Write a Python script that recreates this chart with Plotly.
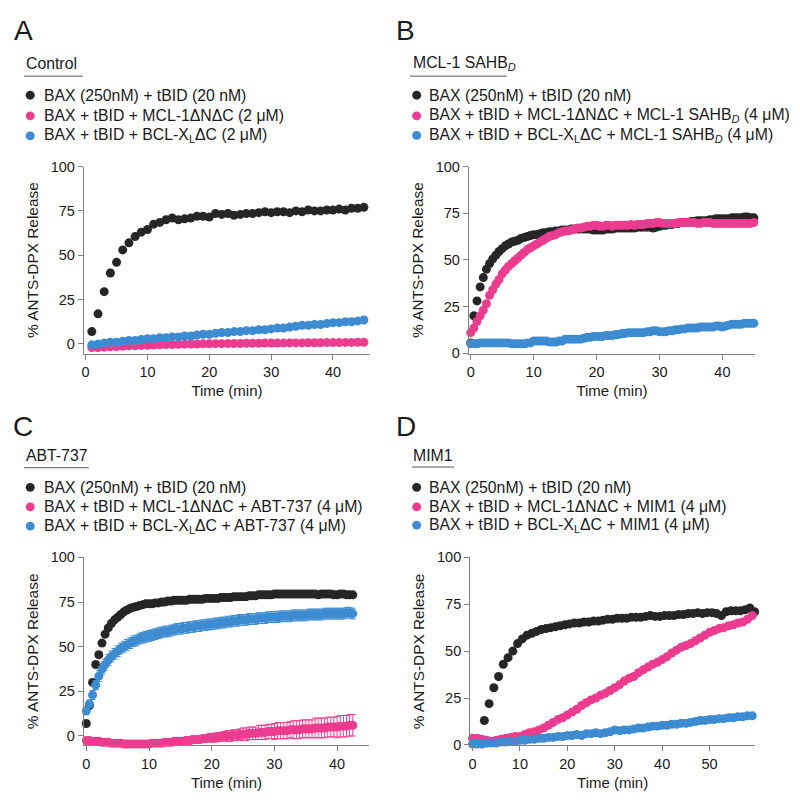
import plotly.graph_objects as go

W, H = 800, 811

# ---------------- DATA ----------------
BLACK = "#262626"
PINK = "#EC3C8F"
BLUE = "#3D8BD1"

# Panel A (Control)
tA = [1, 2, 3, 4, 5, 6, 7, 8, 9, 10, 11, 12, 13, 14, 15, 16, 17, 18, 19, 20,
      21, 22, 23, 24, 25, 26, 27, 28, 29, 30, 31, 32, 33, 34, 35, 36, 37, 38, 39, 40,
      41, 42, 43, 44, 45]
A_black = [7, 17, 29.5, 40, 46, 53, 57, 60.5, 63, 64.5,
           67.5, 68.5, 70, 71, 70, 70.5, 71, 72, 72, 71.5,
           73.5, 73, 73.5, 72.5, 73, 73.5, 73.5, 74, 74.5, 74,
           74.5, 74.5, 74, 75, 74.5, 75.5, 75, 75, 75.5, 75.5,
           76, 75.5, 76.5, 76.5, 77]
A_pink = [-2, -2, -1.8, -1.6, -1.5, -1.3, -1.1, -1, -0.8, -0.7,
          -0.6, -0.5, -0.4, -0.3, -0.2, -0.1, 0, 0, 0.1, 0.1,
          0.2, 0.2, 0.3, 0.3, 0.3, 0.4, 0.4, 0.4, 0.5, 0.5,
          0.5, 0.5, 0.6, 0.6, 0.6, 0.7, 0.7, 0.7, 0.8, 0.8,
          0.8, 0.9, 0.9, 1, 1]
A_blue = [-0.5, 0, 0.5, 1, 1, 1.5, 2, 2, 2.5, 3,
          3, 3.5, 3.5, 4, 4, 4.5, 4.5, 5, 5.5, 5.5,
          6, 6.5, 6.5, 7, 7, 7.5, 7.5, 8, 8, 8.5,
          9, 9, 9.5, 10, 10.5, 10.5, 11, 11, 11.5, 12,
          12, 12.5, 12.5, 13, 13.5]

# Panel B (MCL-1 SAHB_D)
tB = [0, 0.5, 1, 1.5, 2, 2.5, 3, 3.5, 4, 4.5,
      5, 5.5, 6, 6.5, 7, 7.5, 8, 8.5, 9, 9.5,
      10, 10.5, 11, 11.5, 12, 12.5, 13, 13.5, 14, 14.5,
      15, 15.5, 16, 16.5, 17, 17.5, 18, 18.5, 19, 19.5,
      20, 20.5, 21, 21.5, 22, 22.5, 23, 23.5, 24, 24.5,
      25, 25.5, 26, 26.5, 27, 27.5, 28, 28.5, 29, 29.5,
      30, 30.5, 31, 31.5, 32, 32.5, 33, 33.5, 34, 34.5,
      35, 35.5, 36, 36.5, 37, 37.5, 38, 38.5, 39, 39.5,
      40, 40.5, 41, 41.5, 42, 42.5, 43, 43.5, 44, 44.5,
      45]
B_black = [5.5, 20, 28, 35.5, 40.5, 45, 48, 50.5, 52.5, 54.5,
           56, 57.5, 58.5, 59.5, 60, 60.5, 61.5, 62, 62.5, 63,
           63.5, 63.5, 64, 64.5, 64.5, 65, 65, 65.5, 65.5, 66,
           66, 66, 66.5, 66.5, 66.5, 66.5, 66.5, 66.5, 66.5, 66,
           66, 66, 66, 66.5, 66.5, 66.5, 67, 67, 67, 67,
           67, 67, 67, 67.5, 67.5, 67.5, 67.5, 67.5, 67, 67.5,
           68, 68.5, 68.5, 69, 69, 69.5, 69.5, 70, 70, 70,
           70.5, 70.5, 71, 71, 71, 71, 71.5, 71.5, 72, 72,
           72, 72, 72, 72.5, 72.5, 72.5, 72.5, 73, 73, 72.5,
           72.5]
B_black_err = 1.5
B_pink = [11, 13.5, 17, 20, 23, 26.5, 31, 34, 37, 39.5,
          42.5, 44.5, 46.5, 48, 49.5, 51, 52.5, 54, 55.5, 56.5,
          57.5, 58.5, 59.5, 60.5, 61.5, 62.5, 63, 63.5, 64.5, 65,
          65.5, 65.5, 66, 66.5, 67, 67, 67.5, 68, 68, 68.5,
          68.5, 68, 68, 68.5, 68.5, 68, 68.5, 68.5, 68.5, 68.5,
          68.5, 69, 68.5, 69, 69, 69, 69.5, 69.5, 69.5, 70,
          70, 69.5, 69.5, 69.5, 69.5, 69.5, 70, 70, 70, 70,
          70, 70, 69.5, 69.5, 70, 70, 70, 69.5, 69.5, 69.5,
          69.5, 69.5, 69.5, 69.5, 69.5, 69.5, 69.5, 69.5, 69.5, 69.5,
          70]
B_pink_err = 1.2
B_blue = [5, 5, 5, 5.5, 5.5, 5.5, 5.5, 5.5, 5.5, 5.5,
          5.5, 5.5, 5.5, 5, 5, 5, 5, 5, 5.5, 5.5,
          6.5, 6.5, 6.5, 6.5, 6.5, 6, 6, 6, 6.5, 6.5,
          7.5, 7.5, 7.5, 7.5, 7.5, 7.5, 8, 8.5, 8.5, 9,
          9, 9, 9, 9.5, 9.5, 9.5, 10, 10, 10.5, 10.5,
          11, 11, 11, 11, 11, 11, 11.5, 11.5, 12, 12,
          11.5, 11.5, 11.5, 12, 12, 12.5, 12.5, 13, 13, 13.5,
          13.5, 13.5, 13.5, 14, 14, 14, 14, 14, 14.5, 14.5,
          14, 14.5, 15, 15.5, 15.5, 15.5, 15.5, 16, 16, 16,
          16]

# Panel C (ABT-737)
tC = [0, 0.5, 1, 1.5, 2, 2.5, 3, 3.5, 4, 4.5,
      5, 5.5, 6, 6.5, 7, 7.5, 8, 8.5, 9, 9.5,
      10, 10.5, 11, 11.5, 12, 12.5, 13, 13.5, 14, 14.5,
      15, 15.5, 16, 16.5, 17, 17.5, 18, 18.5, 19, 19.5,
      20, 20.5, 21, 21.5, 22, 22.5, 23, 23.5, 24, 24.5,
      25, 25.5, 26, 26.5, 27, 27.5, 28, 28.5, 29, 29.5,
      30, 30.5, 31, 31.5, 32, 32.5, 33, 33.5, 34, 34.5,
      35, 35.5, 36, 36.5, 37, 37.5, 38, 38.5, 39, 39.5,
      40, 40.5, 41, 41.5, 42, 42.5]
C_black = [7, 17, 30, 40, 45.5, 52, 57, 60.5, 63, 65,
           66.5, 68, 69.5, 70.5, 71.5, 72, 72.5, 73, 73.5, 74,
           74, 74, 74.5, 74.5, 75, 75, 75.5, 75.5, 76, 76,
           76, 76, 76, 76.5, 76.5, 76.5, 76.5, 76.5, 77, 77,
           77, 77, 77, 77.5, 77.5, 77.5, 77.5, 78, 78, 78,
           78, 78, 78.5, 78.5, 78.5, 79, 79, 79, 79, 79,
           79.5, 79.5, 79.5, 79.5, 79.5, 79.5, 79.5, 79.5, 79.5, 79.5,
           79.5, 79.5, 79.5, 79.5, 79, 79.5, 79.5, 79.5, 79.5, 79,
           79, 79.5, 79.5, 79, 79, 79]
C_pink = [-2.5, -2.5, -3, -3, -3, -3.5, -3.5, -3.5, -4, -4,
          -4, -4, -4.5, -4.5, -4.5, -4.5, -4.5, -4.5, -4.5, -4.5,
          -4.5, -4, -4, -4, -4, -3.5, -3.5, -3.5, -3, -3,
          -3, -3, -2.5, -2.5, -2, -2, -2, -1.5, -1.5, -1,
          -1, -1, -0.5, -0.5, 0, 0, 0, 0.5, 0.5, 1,
          1, 1, 1.5, 1.5, 1.5, 2, 2, 2, 2.5, 2.5,
          2.5, 3, 3, 3, 3, 3.5, 3.5, 3.5, 3.5, 4,
          4, 4, 4, 4.5, 4.5, 4.5, 4.5, 5, 5, 5,
          5, 5.5, 5.5, 5.5, 6, 6]
C_pink_err = [0.5, 0.5, 0.5, 0.5, 0.5, 0.5, 0.5, 0.5, 0.5, 0.5,
              1, 1, 1, 1, 1, 1, 1, 1, 1, 1,
              1.5, 1.5, 1.5, 1.5, 1.5, 1.5, 1.5, 1.5, 1.5, 1.5,
              2, 2, 2, 2, 2, 2, 2, 2, 2, 2,
              2.5, 2.5, 2.5, 2.5, 2.5, 3, 3, 3, 3, 3,
              3.5, 3.5, 3.5, 3.5, 3.5, 4, 4, 4, 4, 4,
              4.5, 4.5, 4.5, 4.5, 4.5, 4.5, 5, 5, 5, 5,
              5, 5, 5, 5.5, 5.5, 5.5, 5.5, 5.5, 5.5, 5.5,
              6, 6, 6, 6, 6, 6]
C_blue = [14, 18, 23, 28.5, 33.5, 37.5, 40, 42.5, 44.5, 46,
          47.5, 49, 50, 51, 52, 53, 53.5, 54.5, 55, 55.5,
          56, 56.5, 57, 57.5, 58, 58.5, 58.5, 59, 59.5, 60,
          60, 60.5, 60.5, 61, 61, 61.5, 61.5, 62, 62, 62.5,
          62.5, 63, 63, 63.5, 63.5, 64, 64, 64.5, 64.5, 65,
          65, 65, 65.5, 65.5, 65.5, 66, 66, 66, 66.5, 66.5,
          66.5, 66.5, 67, 67, 67, 67, 67.5, 67.5, 67.5, 67.5,
          67.5, 68, 68, 68, 68, 68, 68.5, 68.5, 68.5, 68.5,
          68.5, 68.5, 68.5, 69, 69, 68.5]
C_blue_err = [2, 2, 2.5, 2.5, 3, 3, 3, 3, 3, 3,
              3, 3, 3, 3, 3, 3, 3, 3, 3, 3,
              3, 3, 3, 3, 3, 3, 3, 3, 3, 3,
              3, 3, 3, 3, 3, 3, 3, 3, 3, 3,
              3, 3, 3, 3, 3, 3, 3, 3, 3, 3,
              3, 3, 3, 3, 3, 3, 3, 3, 3, 3,
              3, 3, 3, 3, 3, 3, 3, 3, 3, 3,
              3, 3, 3, 3, 3, 3, 3, 3, 3, 3,
              3, 3, 3, 3, 3, 3]

# Panel D (MIM1)
tD_black = [2.5, 3.5, 4.5, 5.5, 6.5, 7.5, 8.5, 9.5, 10.5, 11.5,
            12.5, 13.5, 14.5, 15.5, 16.5, 17.5, 18.5, 19.5, 20.5, 21.5,
            22.5, 23.5, 24.5, 25.5, 26.5, 27.5, 28.5, 29.5, 30.5, 31.5,
            32.5, 33.5, 34.5, 35.5, 36.5, 37.5, 38.5, 39.5, 40.5, 41.5,
            42.5, 43.5, 44.5, 45.5, 46.5, 47.5, 48.5, 49.5, 50.5, 51.5,
            52.5, 53.5, 54.5, 55.5, 56.5, 57.5, 58.5, 59.5]
D_black = [13, 22, 30.5, 36.5, 43, 46.5, 50, 54, 56.5, 58.5,
           59.5, 60.5, 61.5, 62, 62.5, 63, 63.5, 64, 64.5, 65,
           65, 65.5, 65.5, 66, 66, 66.5, 67, 67, 67.5, 67.5,
           67.5, 68, 68, 68, 68.5, 69, 68.5, 68.5, 69, 69,
           69, 69.5, 69.5, 70, 70, 70.5, 70, 70.5, 70.5, 70,
           69, 71, 71.5, 71.5, 71.5, 72, 73, 71]
tD = [0, 1, 2, 3, 4, 5, 6, 7, 8, 9,
      10, 11, 12, 13, 14, 15, 16, 17, 18, 19,
      20, 21, 22, 23, 24, 25, 26, 27, 28, 29,
      30, 31, 32, 33, 34, 35, 36, 37, 38, 39,
      40, 41, 42, 43, 44, 45, 46, 47, 48, 49,
      50, 51, 52, 53, 54, 55, 56, 57, 58, 59]
D_pink = [3.5, 3.5, 3, 2.5, 2, 2.5, 3, 3.5, 4, 4.5,
          4.5, 5.5, 6.5, 7, 8, 9, 10.5, 12, 13.5, 14.5,
          16, 17.5, 19, 21, 22.5, 24, 25, 26.5, 27.5, 29,
          30.5, 32, 34, 35.5, 36.5, 38.5, 40, 41.5, 43, 44,
          45.5, 47, 49, 50.5, 52, 53, 54, 55.5, 57, 58.5,
          60, 61, 62, 62.5, 63.5, 64, 65, 65.5, 67, 69]
D_blue = [0.5, 0.5, 0.5, 1, 1, 1, 1.5, 1.5, 2, 2,
          2.5, 2.5, 3, 3, 3.5, 3.5, 4, 4, 4.5, 4.5,
          5, 5, 5.5, 5, 6, 6, 6.5, 6, 6.5, 7,
          8, 7.5, 8, 8, 8.5, 9, 9, 9.5, 10, 10,
          10.5, 10.5, 11, 11, 11.5, 11.5, 12, 12.5, 13, 13,
          13.5, 13.5, 14, 14, 14.5, 14.5, 15, 15, 15.5, 15.5]

x_ticks_45 = [0, 10, 20, 30, 40]
x_ticks_60 = [0, 10, 20, 30, 40, 50]
y_ticks = [0, 25, 50, 75, 100]

# ---------------- FIGURE ----------------
FONT = "Liberation Sans, Arial, Helvetica, sans-serif"
TXT = "#1a1a1a"
AXC = "#808080"
LEG_SIZE = 15.8


def px(x):
    return x / W


def py(y):
    return 1 - y / H


fig = go.Figure()


def add(t, v, color, ax, err=None, errc=None):
    ey = dict(visible=False)
    if isinstance(err, list):
        ey = dict(type="data", array=err, visible=True, color=errc or color,
                  thickness=1, width=3)
    elif err is not None:
        ey = dict(type="constant", value=err, visible=True, color=errc or color,
                  thickness=1, width=3)
    fig.add_trace(go.Scatter(
        x=t, y=v, mode="markers", xaxis="x" + ax, yaxis="y" + ax,
        marker=dict(size=9, color=color, line=dict(width=0)),
        error_y=ey, cliponaxis=False, showlegend=False,
        hoverinfo="x+y"))


# A
add(tA, A_black, BLACK, "")
add(tA, A_pink, PINK, "")
add(tA, A_blue, BLUE, "")
# B
add(tB, B_black, BLACK, "2", B_black_err, "#555555")
add(tB, B_pink, PINK, "2", B_pink_err)
add(tB, B_blue, BLUE, "2")
# C
add(tC, C_black, BLACK, "3")
add(tC, C_pink, PINK, "3", C_pink_err)
add(tC, C_blue, BLUE, "3", C_blue_err)
# D
add(tD_black, D_black, BLACK, "4")
add(tD, D_pink, PINK, "4")
add(tD, D_blue, BLUE, "4")


def xax(domain, rng, ticks, anchor):
    return dict(domain=domain, range=rng, tickvals=ticks, anchor=anchor,
                showline=True, linecolor=AXC, linewidth=1, ticks="outside",
                ticklen=5, tickwidth=1, tickcolor=AXC, showgrid=False,
                zeroline=False, tickfont=dict(size=14.5, color=TXT, family=FONT),
                title=dict(text="Time (min)", font=dict(size=15, color=TXT, family=FONT),
                           standoff=6))


def yax(domain, rng, anchor):
    return dict(domain=domain, range=rng, tickvals=y_ticks, anchor=anchor,
                showline=True, linecolor=AXC, linewidth=1, ticks="outside",
                ticklen=5, tickwidth=1, tickcolor=AXC, showgrid=False,
                zeroline=False, tickfont=dict(size=14.5, color=TXT, family=FONT),
                title=dict(text="% ANTS-DPX Release",
                           font=dict(size=15.4, color=TXT, family=FONT), standoff=8))


top_dom = [py(352.7), py(161.7)]
bot_dom = [py(752.3), py(560.4)]

fig.update_layout(
    width=W, height=H,
    margin=dict(l=0, r=0, t=0, b=0),
    paper_bgcolor="white", plot_bgcolor="white",
    font=dict(family=FONT, color=TXT),
    xaxis=xax([px(82), px(369)], [-0.3, 46], x_ticks_45, "y"),
    yaxis=yax(top_dom, [-5.5, 100], "x"),
    xaxis2=xax([px(468), px(755)], [-0.3, 45.2], x_ticks_45, "y2"),
    yaxis2=yax(top_dom, [-0.3, 100], "x2"),
    xaxis3=xax([px(82), px(368)], [-0.4, 45.1], x_ticks_45, "y3"),
    yaxis3=yax(bot_dom, [-5.3, 100], "x3"),
    xaxis4=xax([px(469.3), px(755)], [-0.5, 59.6], x_ticks_60, "y4"),
    yaxis4=yax(bot_dom, [-0.3, 100], "x4"),
)

annotations = []
shapes = []


def text(x, y, s, size=LEG_SIZE):
    annotations.append(dict(x=px(x), y=py(y), xref="paper", yref="paper",
                            text=s, showarrow=False, xanchor="left", yanchor="middle",
                            font=dict(size=size, color=TXT, family=FONT)))


def dot(x, y, color, d=9):
    r = d / 2
    shapes.append(dict(type="circle", xref="paper", yref="paper",
                       x0=px(x - r), x1=px(x + r), y0=py(y + r), y1=py(y - r),
                       fillcolor=color, line=dict(width=0)))


def uline(x0, x1, y):
    shapes.append(dict(type="line", xref="paper", yref="paper",
                       x0=px(x0), x1=px(x1), y0=py(y), y1=py(y),
                       line=dict(color="#555555", width=1)))


panels = [
    ("A", 10.5, 23, "Control", 22, 57, (22, 81, 69.5), 28.3, (89, 110, 130.5), 40,
     ["BAX (250nM) + tBID (20 nM)",
      "BAX + tBID + MCL-1ΔNΔC (2 μM)",
      "BAX + tBID + BCL-X<sub>L</sub>ΔC (2 μM)"]),
    ("B", 393, 23, "MCL-1 SAHB<sub><i>D</i></sub>", 409.7, 57, (409, 506, 69.5), 415.7,
     (89, 110, 130), 426.5,
     ["BAX (250nM) + tBID (20 nM)",
      "BAX + tBID + MCL-1ΔNΔC + MCL-1 SAHB<sub><i>D</i></sub> (4 μM)",
      "BAX + tBID + BCL-X<sub>L</sub>ΔC + MCL-1 SAHB<sub><i>D</i></sub> (4 μM)"]),
    ("C", 9, 427, "ABT-737", 22, 456.7, (22, 87, 469), 28.3, (489, 509, 528.5), 40,
     ["BAX (250nM) + tBID (20 nM)",
      "BAX + tBID + MCL-1ΔNΔC + ABT-737 (4 μM)",
      "BAX + tBID + BCL-X<sub>L</sub>ΔC + ABT-737 (4 μM)"]),
    ("D", 393, 427, "MIM1", 409.7, 456, (410.7, 453.3, 468.3), 415.7, (489, 509, 527.5), 426.5,
     ["BAX (250nM) + tBID (20 nM)",
      "BAX + tBID + MCL-1ΔNΔC + MIM1 (4 μM)",
      "BAX + tBID + BCL-X<sub>L</sub>ΔC + MIM1 (4 μM)"]),
]

for (L, lx, ly, hdr, hx, hy, ul, mx, rows, tx, labels) in panels:
    text(lx, ly, L, size=28)
    text(hx, hy, hdr)
    uline(*ul)
    for yy, c, lab in zip(rows, [BLACK, PINK, BLUE], labels):
        dot(mx, yy, c)
        text(tx, yy, lab)

fig.update_layout(annotations=annotations, shapes=shapes)

fig.write_html("out.html",
               config={"displayModeBar": False},
               post_script="document.body.style.margin='0px';document.body.style.padding='0px';")
